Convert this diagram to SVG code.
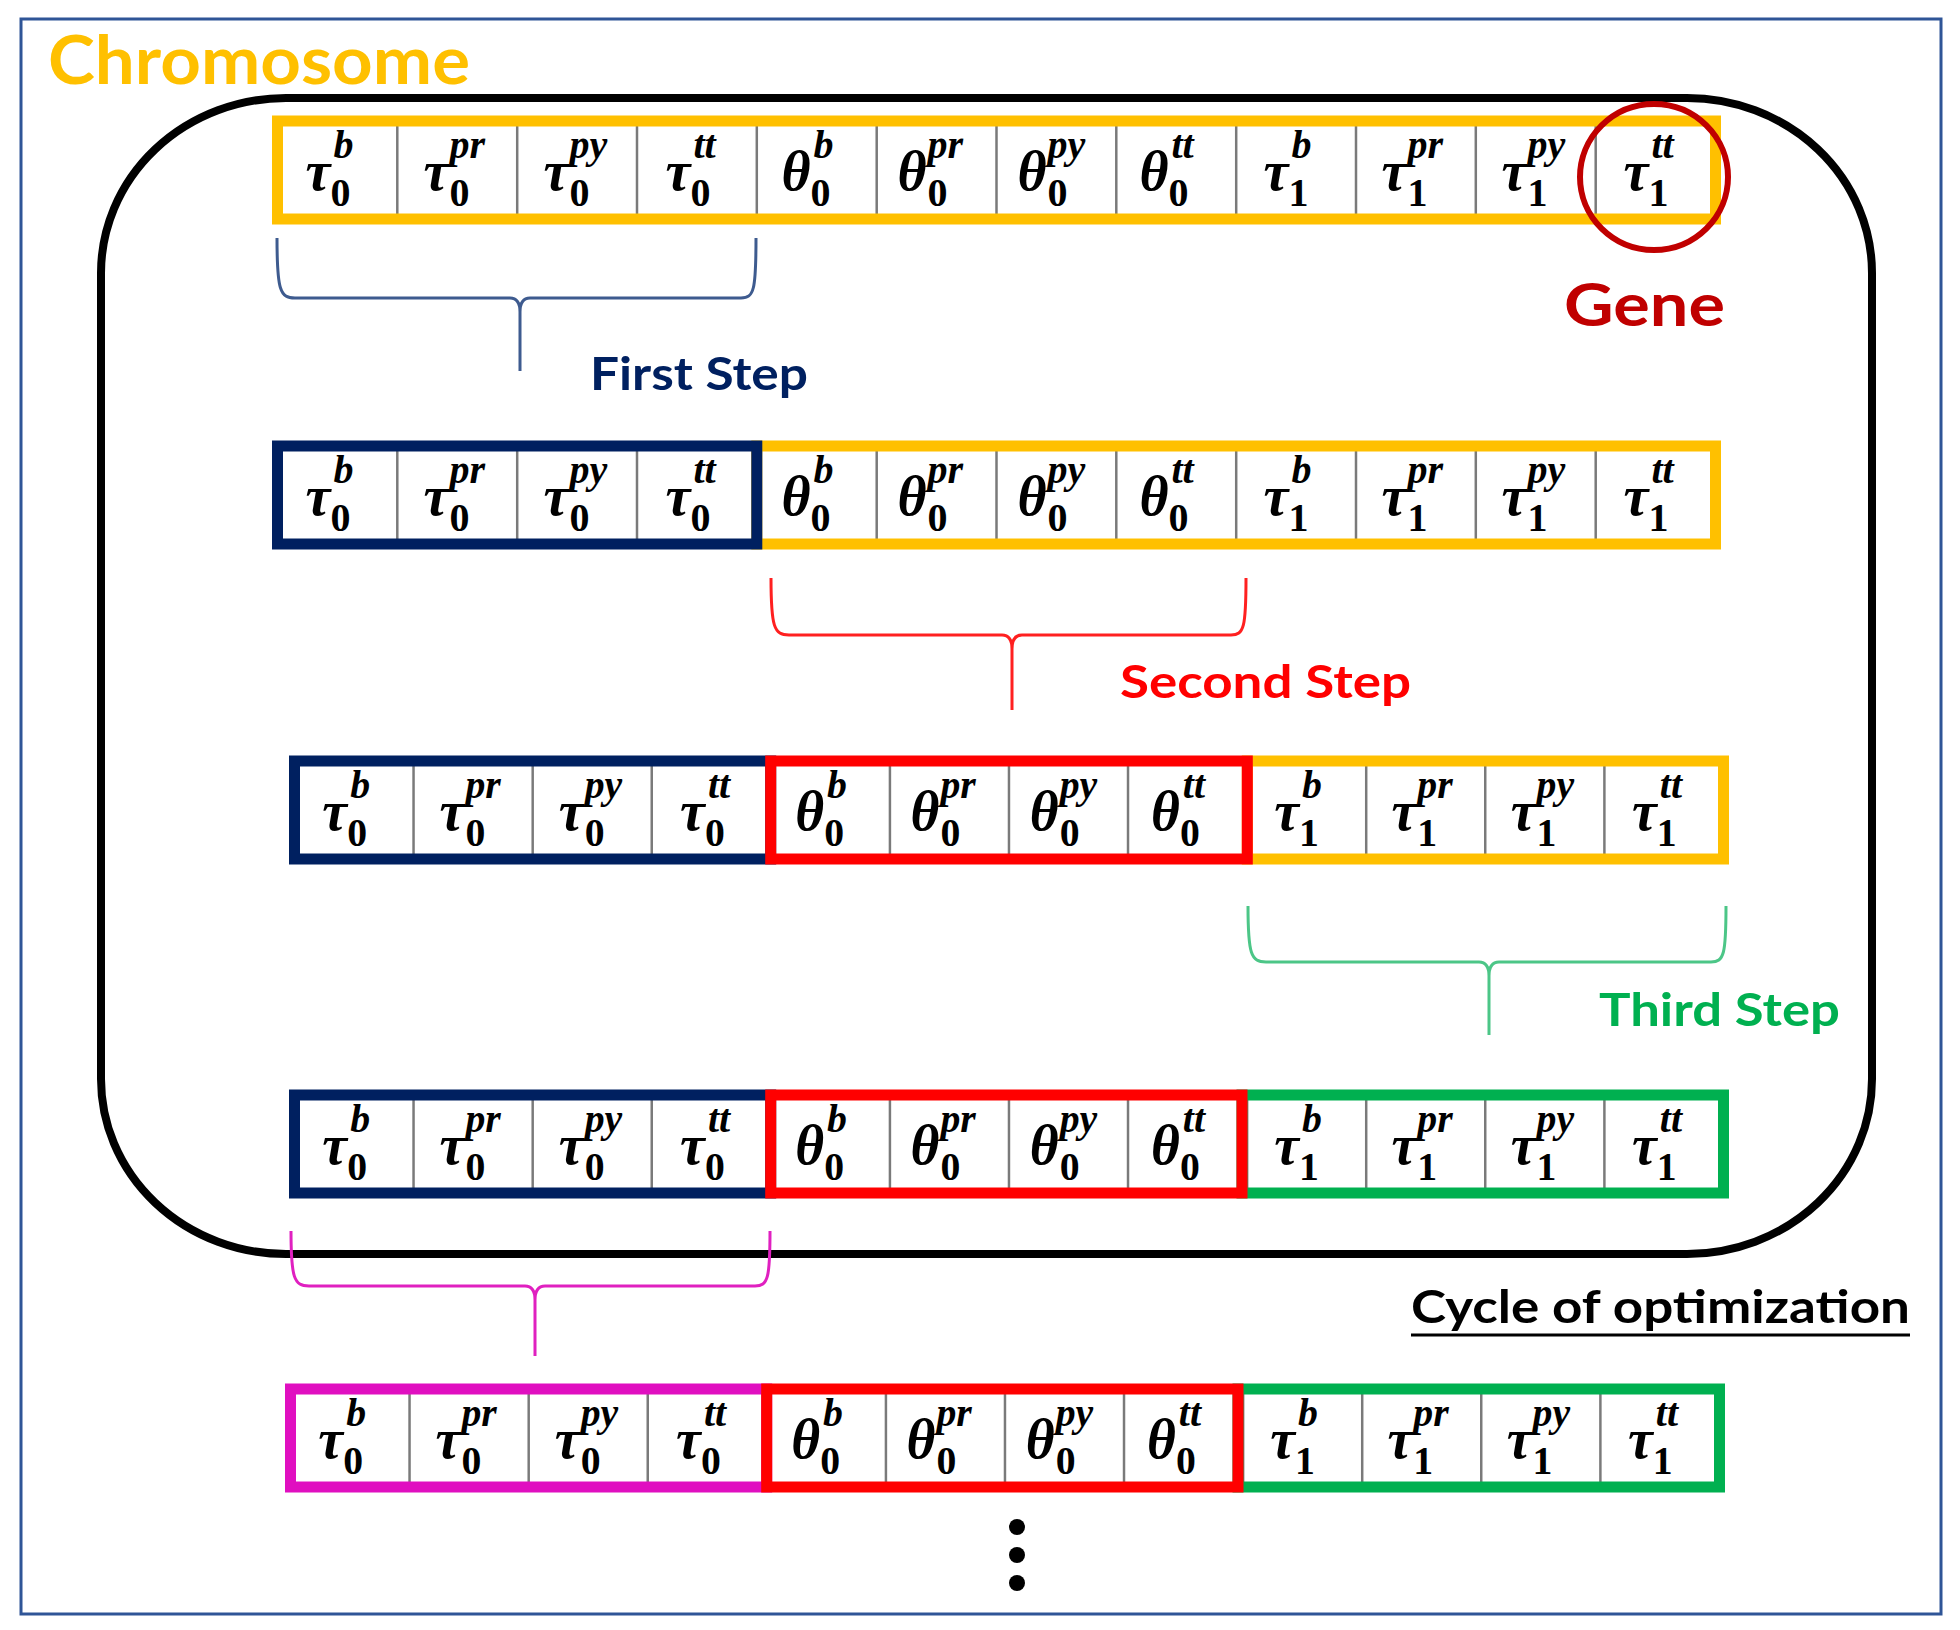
<svg xmlns="http://www.w3.org/2000/svg" xmlns:xlink="http://www.w3.org/1999/xlink" width="1960" height="1630" viewBox="0 0 1960 1630">
<style>
.t{font-family:"Liberation Serif",serif;font-style:italic;font-weight:bold;font-size:56px;fill:#000}
.sp{font-family:"Liberation Serif",serif;font-style:italic;font-weight:bold;font-size:40px;fill:#000}
.sb{font-family:"Liberation Serif",serif;font-weight:bold;font-size:40px;fill:#000}
.dv{stroke:#7a7a7a;stroke-width:2.5}
.lab{font-family:Lato,"Liberation Sans",sans-serif;font-weight:bold}
.seg{fill:none;stroke-width:11}
.y{stroke:#FFC000}.n{stroke:#002060}.r{stroke:#FF0000}.g{stroke:#00B050}.m{stroke:#E00FC0}
.br{fill:none;stroke-width:3}
</style>
<defs>
<g id="lbl">
<rect x="0" y="-49" width="1438" height="98" fill="#fff"/>
<g class="dv">
<line x1="119.8" y1="-49" x2="119.8" y2="49"/><line x1="239.7" y1="-49" x2="239.7" y2="49"/><line x1="359.5" y1="-49" x2="359.5" y2="49"/><line x1="479.3" y1="-49" x2="479.3" y2="49"/><line x1="599.2" y1="-49" x2="599.2" y2="49"/><line x1="719" y1="-49" x2="719" y2="49"/><line x1="838.8" y1="-49" x2="838.8" y2="49"/><line x1="958.7" y1="-49" x2="958.7" y2="49"/><line x1="1078.5" y1="-49" x2="1078.5" y2="49"/><line x1="1198.3" y1="-49" x2="1198.3" y2="49"/><line x1="1318.2" y1="-49" x2="1318.2" y2="49"/>
</g>
<text class="t" x="28" y="20">τ</text><text class="sp" x="56" y="-12">b</text><text class="sb" x="53" y="36">0</text>
<text class="t" x="146" y="20">τ</text><text class="sp" x="172" y="-12">pr</text><text class="sb" x="172" y="36">0</text>
<text class="t" x="266" y="20">τ</text><text class="sp" x="292" y="-12">py</text><text class="sb" x="292" y="36">0</text>
<text class="t" x="388" y="20">τ</text><text class="sp" x="416" y="-12">tt</text><text class="sb" x="413" y="36">0</text>
<text class="t" x="504" y="20">θ</text><text class="sp" x="536" y="-12">b</text><text class="sb" x="533" y="36">0</text>
<text class="t" x="620" y="20">θ</text><text class="sp" x="650" y="-12">pr</text><text class="sb" x="650" y="36">0</text>
<text class="t" x="740" y="20">θ</text><text class="sp" x="770" y="-12">py</text><text class="sb" x="770" y="36">0</text>
<text class="t" x="862" y="20">θ</text><text class="sp" x="894" y="-12">tt</text><text class="sb" x="891" y="36">0</text>
<text class="t" x="986" y="20">τ</text><text class="sp" x="1014" y="-12">b</text><text class="sb" x="1011" y="36">1</text>
<text class="t" x="1104" y="20">τ</text><text class="sp" x="1130" y="-12">pr</text><text class="sb" x="1130" y="36">1</text>
<text class="t" x="1224" y="20">τ</text><text class="sp" x="1250" y="-12">py</text><text class="sb" x="1250" y="36">1</text>
<text class="t" x="1346" y="20">τ</text><text class="sp" x="1374" y="-12">tt</text><text class="sb" x="1371" y="36">1</text>
</g>
</defs>
<rect width="1960" height="1630" fill="#fff"/>
<rect x="21" y="19" width="1920" height="1595" fill="none" stroke="#2F5597" stroke-width="3"/>
<text class="lab" x="48" y="84" font-size="66" fill="#FFC000" textLength="422" lengthAdjust="spacingAndGlyphs">Chromosome</text>
<rect x="101" y="98" width="1771" height="1156" rx="185" ry="175" fill="none" stroke="#000" stroke-width="8"/>

<g id="row1"><use xlink:href="#lbl" transform="translate(277.5,170)"/><rect class="seg y" x="277.5" y="121" width="1438" height="98"/></g>
<g id="row2"><use xlink:href="#lbl" transform="translate(277.5,495)"/><rect class="seg y" x="756.8" y="446" width="958.7" height="98"/><rect class="seg n" x="277.5" y="446" width="479.3" height="98"/></g>
<g id="row3"><use xlink:href="#lbl" transform="translate(294.5,810) scale(0.9937,1)"/><rect class="seg y" x="1247.3" y="761" width="476.2" height="98"/><rect class="seg n" x="294.5" y="761" width="476.2" height="98"/><rect class="seg r" x="770.7" y="761" width="476.6" height="98"/></g>
<g id="row4"><use xlink:href="#lbl" transform="translate(294.5,1144) scale(0.9937,1)"/><rect class="seg n" x="294.5" y="1095" width="476.2" height="98"/><rect class="seg g" x="1242" y="1095" width="481.5" height="98"/><rect class="seg r" x="770.7" y="1095" width="471.3" height="98"/></g>
<g id="row5"><use xlink:href="#lbl" transform="translate(290.5,1438) scale(0.9937,1)"/><rect class="seg m" x="290.5" y="1389" width="476.2" height="98"/><rect class="seg g" x="1238" y="1389" width="481.5" height="98"/><rect class="seg r" x="766.7" y="1389" width="471.3" height="98"/></g>

<g id="gene"><ellipse cx="1654" cy="177" rx="74" ry="73" fill="none" stroke="#C00000" stroke-width="6"/>
<text class="lab" x="1564" y="326" font-size="60" fill="#C00000" textLength="161" lengthAdjust="spacingAndGlyphs">Gene</text></g>

<g id="connectors">
<path class="br" stroke="#3E5B8F" d="M277,238 C277,290 280,298 295,298 L510,298 Q520,298 520,312 L520,371 M520,312 Q520,298 530,298 L741,298 C754,298 756,290 756,238"/>
<path class="br" stroke="#FF2020" d="M771,578 C771,627 774,635 789,635 L1002,635 Q1012,635 1012,649 L1012,710 M1012,649 Q1012,635 1022,635 L1231,635 C1244,635 1246,627 1246,578"/>
<path class="br" stroke="#4CC687" d="M1248,906 C1248,954 1251,962 1266,962 L1479,962 Q1489,962 1489,976 L1489,1035 M1489,976 Q1489,962 1499,962 L1711,962 C1724,962 1726,954 1726,906"/>
<path class="br" stroke="#E020C0" d="M291,1231 C291,1278 294,1286 309,1286 L525,1286 Q535,1286 535,1300 L535,1356 M535,1300 Q535,1286 545,1286 L755,1286 C768,1286 770,1278 770,1231"/>
</g>

<text class="lab" x="590" y="390" font-size="46" fill="#002060" textLength="218" lengthAdjust="spacingAndGlyphs">First Step</text>
<text class="lab" x="1120" y="698" font-size="46" fill="#FF0000" textLength="291" lengthAdjust="spacingAndGlyphs">Second Step</text>
<text class="lab" x="1599" y="1026" font-size="46" fill="#00B050" textLength="241" lengthAdjust="spacingAndGlyphs">Third Step</text>
<text class="lab" x="1411" y="1323" font-size="46" fill="#000" textLength="499" lengthAdjust="spacingAndGlyphs">Cycle of optimization</text>
<line x1="1411" y1="1335" x2="1910" y2="1335" stroke="#000" stroke-width="3"/>
<g fill="#000"><circle cx="1017" cy="1527" r="8"/><circle cx="1017" cy="1555" r="8"/><circle cx="1017" cy="1583" r="8"/></g>
</svg>
